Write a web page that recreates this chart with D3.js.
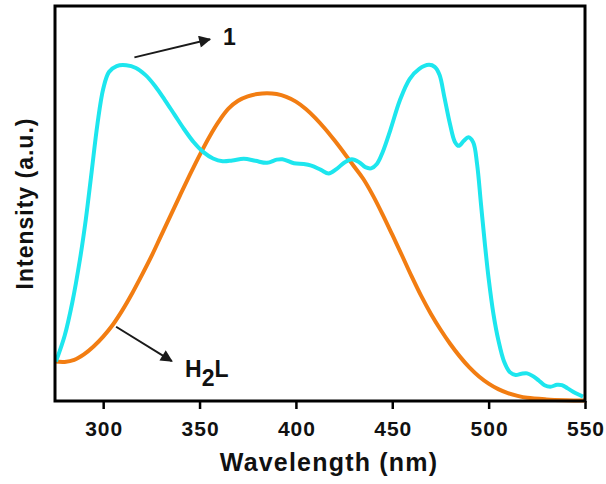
<!DOCTYPE html>
<html>
<head>
<meta charset="utf-8">
<script src="https://cdn.jsdelivr.net/npm/d3@7"></script>
<style>
  body { margin: 0; background: #fff; }
  svg { display: block; font-family: "Liberation Sans", Arial, sans-serif; }
</style>
</head>
<body>
<div id="chart"></div>
<script>
// Excitation spectra (wavelength nm, normalised intensity)
const wavelengthH2L = [275, 280, 285, 290, 295, 300, 305, 310, 315, 320, 325, 330, 335, 340, 345, 350, 355, 360, 365, 370, 375, 380, 385, 390, 395, 400, 405, 410, 415, 420, 425, 430, 435, 440, 445, 450, 455, 460, 465, 470, 475, 480, 485, 490, 495, 500, 505, 510, 515, 520, 530, 540, 550];
const intensityH2L = [0.100, 0.099, 0.104, 0.118, 0.138, 0.163, 0.193, 0.230, 0.272, 0.318, 0.366, 0.418, 0.470, 0.522, 0.573, 0.622, 0.668, 0.708, 0.740, 0.760, 0.771, 0.777, 0.779, 0.777, 0.770, 0.758, 0.740, 0.717, 0.690, 0.660, 0.628, 0.595, 0.562, 0.520, 0.472, 0.421, 0.369, 0.316, 0.266, 0.221, 0.181, 0.145, 0.113, 0.085, 0.062, 0.044, 0.030, 0.020, 0.013, 0.008, 0.004, 0.002, 0.001];

const wavelength1 = [275.5, 280, 284, 288, 291, 294, 297, 300, 303, 307, 312, 317, 322, 327, 332, 337, 342, 347, 352, 357, 362, 367, 373, 379, 385, 390, 393, 399, 404, 408, 413, 417, 421, 425, 429, 433, 436, 439, 442, 445, 449, 454, 459, 464, 469, 472, 474.5, 477, 480, 482.5, 484.5, 487, 489.5, 492, 494, 496, 498, 500, 502.5, 505, 508, 511, 514, 517, 520, 523, 526, 529, 532, 535.5, 538, 541, 545, 549];
const intensity1 = [0.100, 0.165, 0.250, 0.360, 0.460, 0.580, 0.700, 0.790, 0.833, 0.848, 0.850, 0.843, 0.825, 0.797, 0.762, 0.725, 0.688, 0.655, 0.630, 0.614, 0.607, 0.609, 0.613, 0.608, 0.603, 0.611, 0.612, 0.602, 0.600, 0.596, 0.585, 0.576, 0.587, 0.603, 0.612, 0.604, 0.592, 0.589, 0.600, 0.630, 0.686, 0.762, 0.815, 0.841, 0.851, 0.846, 0.826, 0.770, 0.700, 0.656, 0.646, 0.658, 0.668, 0.655, 0.600, 0.500, 0.400, 0.310, 0.220, 0.155, 0.100, 0.073, 0.066, 0.069, 0.070, 0.063, 0.052, 0.040, 0.036, 0.041, 0.040, 0.032, 0.020, 0.011];

const xTicks = [300, 350, 400, 450, 500, 550];

// Arrow annotations in data units, plus label anchor
const annotations = [
    { label: "1", from: [316.2, 0.870], to: [355.4, 0.916], text: [362.2, 0.901] },
    { label: "H2L", from: [306.7, 0.188], to: [335.6, 0.101], text: [342.5, 0.061] }
];

const margin = { top: 6, right: 21, bottom: 83, left: 55 };
const totalWidth = 606, totalHeight = 484;
const width = totalWidth - margin.left - margin.right;
const height = totalHeight - margin.top - margin.bottom;

const svg = d3.select("#chart")
    .append("svg")
    .attr("width", totalWidth)
    .attr("height", totalHeight)
    .append("g")
    .attr("transform", `translate(${margin.left},${margin.top})`);

const x = d3.scaleLinear().domain([275, 550]).range([0, width]);
const y = d3.scaleLinear().domain([0, 1]).range([height, 0]);

// X axis with outward ticks
const xAxis = svg.append("g")
    .attr("transform", `translate(0,${height})`)
    .call(d3.axisBottom(x).tickValues(xTicks).tickSize(8).tickSizeOuter(0).tickPadding(12));
xAxis.select(".domain").remove();
xAxis.selectAll(".tick line").attr("stroke", "#000").attr("stroke-width", 2.5);
xAxis.selectAll(".tick text")
    .attr("fill", "#111")
    .attr("dx", "0.5px")
    .style("font-size", "21px")
    .style("font-weight", "bold")
    .style("letter-spacing", "1px");

// Curves
const line = d3.line()
    .x(d => x(d[0]))
    .y(d => y(d[1]))
    .curve(d3.curveCatmullRom.alpha(0.5));

svg.append("path")
    .datum(d3.zip(wavelengthH2L, intensityH2L))
    .attr("fill", "none")
    .attr("stroke", "#f27d12")
    .attr("stroke-width", 4)
    .attr("stroke-linejoin", "round")
    .attr("d", line);

svg.append("path")
    .datum(d3.zip(wavelength1, intensity1))
    .attr("fill", "none")
    .attr("stroke", "#1de6ee")
    .attr("stroke-width", 4)
    .attr("stroke-linejoin", "round")
    .attr("d", line);

// Frame
svg.append("rect")
    .attr("x", 0)
    .attr("y", 0)
    .attr("width", width)
    .attr("height", height)
    .attr("fill", "none")
    .attr("stroke", "#000")
    .attr("stroke-width", 3);

// Arrowhead marker
svg.append("defs").append("marker")
    .attr("id", "arrow")
    .attr("viewBox", "0 0 10 10")
    .attr("refX", 9)
    .attr("refY", 5)
    .attr("markerUnits", "userSpaceOnUse")
    .attr("markerWidth", 15)
    .attr("markerHeight", 12)
    .attr("orient", "auto")
    .append("path")
    .attr("d", "M0,0 L10,5 L0,10 Z")
    .attr("fill", "#1a1a1a");

annotations.forEach(a => {
    svg.append("line")
        .attr("x1", x(a.from[0]))
        .attr("y1", y(a.from[1]))
        .attr("x2", x(a.to[0]))
        .attr("y2", y(a.to[1]))
        .attr("stroke", "#1a1a1a")
        .attr("stroke-width", 2)
        .attr("marker-end", "url(#arrow)");

    const t = svg.append("text")
        .attr("x", x(a.text[0]))
        .attr("y", y(a.text[1]))
        .attr("fill", "#111")
        .style("font-size", "23px")
        .style("font-weight", "bold");
    if (a.label === "H2L") {
        t.append("tspan").text("H");
        t.append("tspan").attr("dy", 9).text("2");
        t.append("tspan").attr("dy", -9).text("L");
    } else {
        t.text(a.label);
    }
});

// Axis titles
svg.append("text")
    .attr("x", width / 2 + 9)
    .attr("y", height + 70)
    .attr("text-anchor", "middle")
    .attr("fill", "#111")
    .style("font-size", "25px")
    .style("font-weight", "bold")
    .style("letter-spacing", "1.2px")
    .text("Wavelength (nm)");

svg.append("text")
    .attr("transform", "rotate(-90)")
    .attr("x", -height / 2)
    .attr("y", -22)
    .attr("text-anchor", "middle")
    .attr("fill", "#111")
    .style("font-size", "23px")
    .style("font-weight", "bold")
    .style("letter-spacing", "1px")
    .text("Intensity (a.u.)");
</script>
</body>
</html>
